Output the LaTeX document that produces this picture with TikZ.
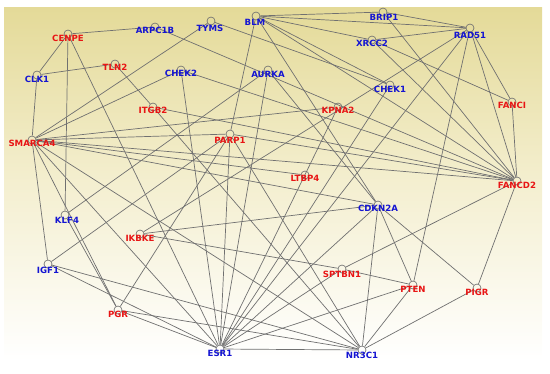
\documentclass[tikz,border=0pt]{standalone}
\usepackage{fontspec}
\setmainfont{DejaVu Sans}
\definecolor{gred}{RGB}{232,20,20}
\definecolor{gblue}{RGB}{20,20,210}
\definecolor{edgegray}{RGB}{112,112,112}
\definecolor{bgtop}{RGB}{228,218,152}
\definecolor{bgmid}{RGB}{244,239,208}
\begin{document}
\begin{tikzpicture}[x=1pt,y=-1pt,
  gc/.style={circle,draw=edgegray,line width=0.65pt,minimum size=8pt,inner sep=0pt},
  lab/.style={font=\fontsize{8.6}{10}\selectfont\bfseries,inner sep=0pt},
  rl/.style={lab,text=gred},
  bl/.style={lab,text=gblue},
  edge/.style={draw=edgegray,line width=0.7pt}]
\useasboundingbox (0,0) rectangle (550,373);
\shade[top color=bgtop,bottom color=white,middle color=bgmid] (4,7) rectangle (542,360);
% gene circles
\node[gc] (CENPE) at (68,34) {};
\node[gc] (ARPC1B) at (155,27) {};
\node[gc] (TYMS) at (211,21) {};
\node[gc] (BLM) at (256,16) {};
\node[gc] (BRIP1) at (383,12) {};
\node[gc] (RAD51) at (470,28) {};
\node[gc] (XRCC2) at (372,40) {};
\node[gc] (CHEK1) at (390,85) {};
\node[gc] (FANCI) at (512,102) {};
\node[gc] (KPNA2) at (338,107) {};
\node[gc] (FANCD2) at (517,181) {};
\node[gc] (CLK1) at (37,75) {};
\node[gc] (TLN2) at (115,64) {};
\node[gc] (CHEK2) at (181,70) {};
\node[gc] (AURKA) at (268,70) {};
\node[gc] (ITGB2) at (153,107) {};
\node[gc] (SMARCA4) at (32,140) {};
\node[gc] (PARP1) at (230,134) {};
\node[gc] (LTBP4) at (305,175) {};
\node[gc] (KLF4) at (65,215) {};
\node[gc] (IKBKE) at (140,234) {};
\node[gc] (IGF1) at (48,264) {};
\node[gc] (PGR) at (118,310) {};
\node[gc] (ESR1) at (220,349) {};
\node[gc] (CDKN2A) at (378,205) {};
\node[gc] (SPTBN1) at (342,269) {};
\node[gc] (PTEN) at (413,285) {};
\node[gc] (PIGR) at (477,288) {};
\node[gc] (NR3C1) at (362,350) {};
% connectors
\foreach \a/\b in {CENPE/ARPC1B,CENPE/CLK1,CENPE/KLF4,CENPE/ESR1,
  ARPC1B/FANCD2,TYMS/SMARCA4,TYMS/CHEK1,
  BLM/BRIP1,BLM/RAD51,BLM/XRCC2,BLM/CHEK1,BLM/FANCD2,BLM/CDKN2A,BLM/PARP1,
  BRIP1/RAD51,BRIP1/FANCD2,
  RAD51/XRCC2,RAD51/FANCI,RAD51/FANCD2,RAD51/PTEN,RAD51/ESR1,RAD51/IKBKE,
  XRCC2/FANCI,XRCC2/FANCD2,FANCI/FANCD2,FANCD2/SPTBN1,FANCD2/PIGR,
  CHEK1/ESR1,KPNA2/ESR1,CLK1/TLN2,CLK1/SMARCA4,
  TLN2/ITGB2,ITGB2/NR3C1,ITGB2/FANCD2,
  CHEK2/SMARCA4,CHEK2/ESR1,CHEK2/FANCD2,
  AURKA/KLF4,AURKA/ESR1,AURKA/CDKN2A,
  SMARCA4/KPNA2,SMARCA4/PARP1,SMARCA4/FANCD2,SMARCA4/LTBP4,SMARCA4/CDKN2A,
  SMARCA4/NR3C1,SMARCA4/ESR1,SMARCA4/IGF1,SMARCA4/PGR,
  PARP1/FANCD2,PARP1/IGF1,PARP1/PGR,PARP1/ESR1,PARP1/NR3C1,
  KLF4/PGR,IKBKE/CDKN2A,IKBKE/SPTBN1,
  IGF1/ESR1,IGF1/NR3C1,PGR/ESR1,PGR/NR3C1,
  ESR1/NR3C1,ESR1/SPTBN1,ESR1/PTEN,ESR1/CDKN2A,
  CDKN2A/PTEN,CDKN2A/PIGR,CDKN2A/NR3C1,SPTBN1/PTEN,PTEN/NR3C1,PIGR/NR3C1}
  \draw[edge] (\a) -- (\b);
% labels
\node[rl] (tCENPE) at (68,38) {CENPE};
\node[bl] (tARPC1B) at (155,30) {ARPC1B};
\node[bl] (tTYMS) at (210,28) {TYMS};
\node[bl] (tBLM) at (255,22) {BLM};
\node[bl] (tBRIP1) at (384,17) {BRIP1};
\node[bl] (tRAD51) at (470,35) {RAD51};
\node[bl] (tXRCC2) at (372,43) {XRCC2};
\node[bl] (tCHEK1) at (390,89) {CHEK1};
\node[rl] (tFANCI) at (512,105) {FANCI};
\node[rl] (tKPNA2) at (338,110) {KPNA2};
\node[rl] (tFANCD2) at (517,185) {FANCD2};
\node[bl] (tCLK1) at (37,79) {CLK1};
\node[rl] (tTLN2) at (115,67) {TLN2};
\node[bl] (tCHEK2) at (181,73) {CHEK2};
\node[bl] (tAURKA) at (268,74) {AURKA};
\node[rl] (tITGB2) at (153,110) {ITGB2};
\node[rl] (tSMARCA4) at (32,143) {SMARCA4};
\node[rl] (tPARP1) at (230,140) {PARP1};
\node[rl] (tLTBP4) at (305,178) {LTBP4};
\node[bl] (tKLF4) at (67,220) {KLF4};
\node[rl] (tIKBKE) at (140,238) {IKBKE};
\node[bl] (tIGF1) at (48,270) {IGF1};
\node[rl] (tPGR) at (118,314) {PGR};
\node[bl] (tESR1) at (220,353) {ESR1};
\node[bl] (tCDKN2A) at (378,208) {CDKN2A};
\node[rl] (tSPTBN1) at (342,274) {SPTBN1};
\node[rl] (tPTEN) at (413,289) {PTEN};
\node[rl] (tPIGR) at (477,292) {PIGR};
\node[bl] (tNR3C1) at (362,355) {NR3C1};
\end{tikzpicture}
\end{document}
